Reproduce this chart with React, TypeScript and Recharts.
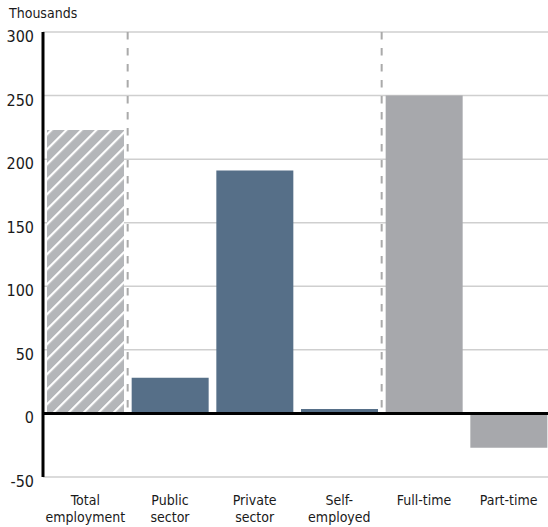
import { BarChart, Bar, XAxis, YAxis, CartesianGrid, ReferenceLine, Cell } from 'recharts';

const categories = ['Total employment', 'Public sector', 'Private sector', 'Self-employed', 'Full-time', 'Part-time'];
const labelLines = [['Total', 'employment'], ['Public', 'sector'], ['Private', 'sector'], ['Self-', 'employed'], ['Full-time'], ['Part-time']];
const changes = [223, 28, 191, 3.5, 250, -27];
const yTicks = [-50, 0, 50, 100, 150, 200, 250, 300];

const FONT = '"DejaVu Sans Condensed", "Liberation Sans Narrow", "Arial Narrow", sans-serif';

// hatched for total, blue for sectors, gray for full/part time
const FILLS = ['url(#hatch)', '#566f88', '#566f88', '#566f88', '#a7a8ac', '#a7a8ac'];

const data = categories.map((name, i) => ({ name, value: changes[i] }));

const XTick = ({ x, y, payload }: any) => {
  const idx = categories.indexOf(payload.value);
  const lines = labelLines[idx] || [payload.value];
  return (
    <text x={x} y={y} textAnchor="middle" fontFamily={FONT} fontSize={14} fill="#1a1a1a">
      {lines.map((l, i) => (
        <tspan key={i} x={x} dy={i === 0 ? 20 : 17}>{l}</tspan>
      ))}
    </text>
  );
};

const YTick = ({ x, y, payload }: any) => (
  <text x={x} y={y} dy={10} textAnchor="end" fontFamily={FONT} fontSize={16} fill="#1a1a1a">
    {payload.value}
  </text>
);

export default function App() {
  return (
    <div style={{ position: 'fixed', left: 0, top: 0, width: 548, height: 527, background: '#fff', overflow: 'hidden' }}>
      <svg width={0} height={0} style={{ position: 'absolute' }}>
        <defs>
          <pattern id="hatch" patternUnits="userSpaceOnUse" width={10.6} height={10.6} patternTransform="rotate(45)">
            <rect width={10.6} height={10.6} fill="#b4b6b9" />
            <rect x={0} width={2.2} height={10.6} fill="#fff" />
          </pattern>
        </defs>
      </svg>
      <div style={{ position: 'absolute', left: 9, top: 5, fontFamily: FONT, fontSize: 14, color: '#1a1a1a' }}>
        Thousands
      </div>
      <BarChart
        width={551}
        height={527}
        data={data}
        margin={{ top: 32, right: 0, left: 0, bottom: 0 }}
      >
        <CartesianGrid vertical={false} stroke="#cfcfcf" strokeWidth={1.5} />
        <XAxis dataKey="name" axisLine={false} tickLine={false} height={50} interval={0} tick={<XTick />} />
        <YAxis
          domain={[-50, 300]}
          ticks={yTicks}
          width={43}
          axisLine={{ stroke: '#000', strokeWidth: 3 }}
          tickLine={false}
          tickMargin={3}
          tick={<YTick />}
        />
        <ReferenceLine
          segment={[{ x: 'Public sector', y: 300 }, { x: 'Public sector', y: 0 }]}
          position="start"
          stroke="#aaa"
          strokeWidth={2}
          strokeDasharray="7.5 8.5"
        />
        <ReferenceLine
          segment={[{ x: 'Full-time', y: 300 }, { x: 'Full-time', y: 0 }]}
          position="start"
          stroke="#aaa"
          strokeWidth={2}
          strokeDasharray="7.5 8.5"
        />
        <Bar dataKey="value" barSize={77} isAnimationActive={false}>
          {data.map((d, i) => (
            <Cell key={d.name} fill={FILLS[i]} />
          ))}
        </Bar>
        <ReferenceLine y={0} stroke="#000" strokeWidth={3} />
      </BarChart>
    </div>
  );
}
